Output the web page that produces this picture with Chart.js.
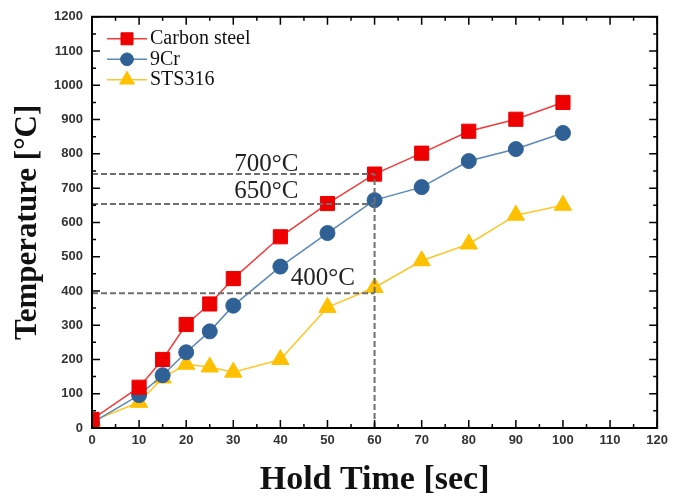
<!DOCTYPE html>
<html>
<head>
<meta charset="utf-8">
<script src="https://cdn.jsdelivr.net/npm/chart.js@4/dist/chart.umd.min.js"></script>
<style>
  html, body { margin: 0; padding: 0; background: #ffffff; }
  #wrap { width: 673px; height: 497px; }
</style>
</head>
<body>
<div id="wrap"><canvas id="tempChart"></canvas></div>
<script>
const holdTimes = [0, 10, 15, 20, 25, 30, 40, 50, 60, 70, 80, 90, 100];
const carbonSteel = [25, 119, 200, 302, 362, 436, 558, 655, 741, 802, 866, 901, 950];
const cr9 = [15, 96, 154, 221, 282, 357, 471, 569, 665, 703, 779, 814, 861];
const sts316 = [20, 75, 146, 186, 178, 163, 200, 352, 410, 488, 537, 621, 650];

const xTicks = [0, 10, 20, 30, 40, 50, 60, 70, 80, 90, 100, 110, 120];
const yTicks = [0, 100, 200, 300, 400, 500, 600, 700, 800, 900, 1000, 1100, 1200];

// guide lines: [x1, y1, x2, y2]
const guideLines = [
  [0, 741, 60, 741],
  [0, 654, 60, 654],
  [0, 393, 60, 393],
  [60, 0, 60, 741],
];
const guideLabels = [
  { text: '700°C', x: 37, y: 770 },
  { text: '650°C', x: 37, y: 689 },
  { text: '400°C', x: 49, y: 436 },
];

const seriesStyle = [
  { label: 'Carbon steel', data: carbonSteel, line: '#f23b3b', fill: '#ee0000', point: 'rect', radius: 10 },
  { label: '9Cr', data: cr9, line: '#5a88bb', fill: '#2f6196', point: 'circle', radius: 7.5 },
  { label: 'STS316', data: sts316, line: '#ffc72c', fill: '#ffc000', point: 'triangle', radius: 10 },
];

const datasets = guideLines.map((g) => ({
  data: [{ x: g[0], y: g[1] }, { x: g[2], y: g[3] }],
  borderColor: '#6e6e6e',
  borderWidth: 2,
  borderDash: [6, 3],
  pointRadius: 0,
  fill: false,
}));

seriesStyle.forEach((s) => {
  datasets.push({
    label: s.label,
    data: holdTimes.map((t, i) => ({ x: t, y: s.data[i] })),
    borderColor: s.line,
    borderWidth: 1.5,
    pointStyle: s.point,
    pointRadius: s.radius,
    pointBackgroundColor: s.fill,
    pointBorderColor: s.fill,
    pointBorderWidth: 1,
    tension: 0,
    clip: 0,
  });
});

const framePlugin = {
  id: 'frame',
  afterDatasetsDraw(chart) {
    const { ctx, chartArea: a, scales } = chart;
    const xs = scales.x;
    const ys = scales.y;
    ctx.save();
    ctx.strokeStyle = '#000000';
    ctx.lineWidth = 2;
    ctx.strokeRect(a.left, a.top, a.right - a.left, a.bottom - a.top);
    ctx.lineWidth = 1.5;
    ctx.beginPath();
    for (let v = 0; v <= 120; v += 5) {
      const px = xs.getPixelForValue(v);
      const len = v % 10 === 0 ? 8 : 4;
      ctx.moveTo(px, a.bottom); ctx.lineTo(px, a.bottom - len);
      ctx.moveTo(px, a.top); ctx.lineTo(px, a.top + len);
    }
    for (let v = 0; v <= 1200; v += 50) {
      const py = ys.getPixelForValue(v);
      const len = v % 100 === 0 ? 8 : 4;
      ctx.moveTo(a.left, py); ctx.lineTo(a.left + len, py);
      ctx.moveTo(a.right, py); ctx.lineTo(a.right - len, py);
    }
    ctx.stroke();

    ctx.fillStyle = '#222222';
    ctx.font = '25px "Liberation Serif", "Times New Roman", serif';
    ctx.textAlign = 'center';
    ctx.textBaseline = 'middle';
    guideLabels.forEach((l) => {
      ctx.fillText(l.text, xs.getPixelForValue(l.x), ys.getPixelForValue(l.y));
    });

    // legend
    const lx = a.left + 15;
    let ly = a.top + 22;
    ctx.font = '20px "Liberation Serif", "Times New Roman", serif';
    ctx.textAlign = 'left';
    seriesStyle.forEach((s) => {
      ctx.strokeStyle = s.line;
      ctx.lineWidth = 1.5;
      ctx.beginPath();
      ctx.moveTo(lx, ly); ctx.lineTo(lx + 40, ly);
      ctx.stroke();
      ctx.fillStyle = s.fill;
      ctx.strokeStyle = s.fill;
      ctx.lineWidth = 1;
      Chart.helpers.drawPoint(ctx, { pointStyle: s.point, radius: s.radius * 0.85, borderWidth: 1 }, lx + 20, ly);
      ctx.fillStyle = '#111111';
      ctx.fillText(s.label, lx + 43, ly);
      ly += 20.5;
    });
    ctx.restore();
  },
};

new Chart(document.getElementById('tempChart'), {
  type: 'line',
  data: { datasets },
  options: {
    responsive: true,
    maintainAspectRatio: false,
    animation: false,
    layout: { padding: { top: 15, right: 14, left: 0, bottom: 0 } },
    plugins: {
      legend: { display: false },
      tooltip: { enabled: false },
    },
    scales: {
      x: {
        type: 'linear',
        min: 0,
        max: 120,
        afterBuildTicks(scale) { scale.ticks = xTicks.map((v) => ({ value: v })); },
        afterFit(scale) { scale.height = 69; },
        grid: { display: false, drawTicks: false },
        border: { display: false },
        ticks: {
          padding: 5,
          color: '#333333',
          font: { family: '"Liberation Sans", Arial, sans-serif', size: 13, weight: 'bold' },
          maxRotation: 0,
          callback: (v) => String(v),
        },
        title: {
          display: true,
          text: 'Hold Time [sec]',
          color: '#111111',
          font: { family: '"Liberation Serif", "Times New Roman", serif', size: 34, weight: 'bold', lineHeight: 1.0 },
          padding: { top: 0, bottom: 0 },
        },
      },
      y: {
        min: 0,
        max: 1200,
        afterBuildTicks(scale) { scale.ticks = yTicks.map((v) => ({ value: v })); },
        afterFit(scale) { scale.width = 92; },
        grid: { display: false, drawTicks: false },
        border: { display: false },
        ticks: {
          padding: 9,
          color: '#333333',
          font: { family: '"Liberation Sans", Arial, sans-serif', size: 13, weight: 'bold' },
          callback: (v) => String(v),
        },
        title: {
          display: true,
          text: 'Temperature [°C]',
          color: '#111111',
          font: { family: '"Liberation Serif", "Times New Roman", serif', size: 31, weight: 'bold' },
          padding: { top: 9, bottom: 0 },
        },
      },
    },
  },
  plugins: [framePlugin],
});
</script>
</body>
</html>
